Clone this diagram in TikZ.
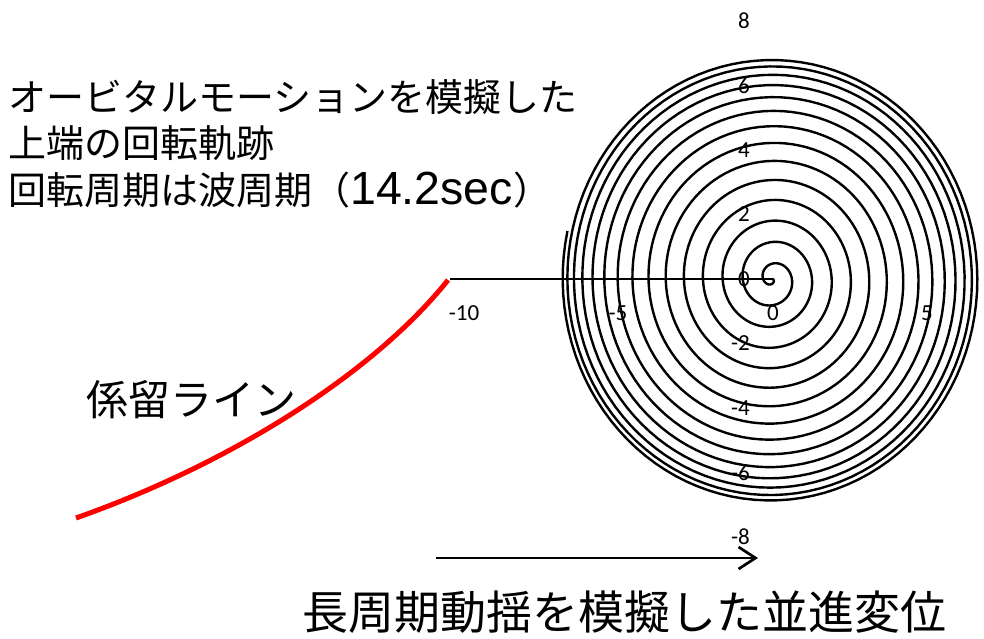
\documentclass[tikz,border=0pt]{standalone}
\usepackage{fontspec}
\setmainfont{Noto Sans CJK JP}
\newfontfamily\jpfont{Noto Sans CJK JP}
\newfontfamily\latfont{Liberation Sans}
\newfontfamily\axfont{Carlito}
\usetikzlibrary{arrows.meta}
\tikzset{
  jptext/.style={anchor=west, inner sep=0pt, font=\jpfont\fontsize{38}{40}\selectfont},
  axlabel/.style={inner sep=0pt, font=\axfont\fontsize{23}{23}\selectfont},
  spiralline/.style={line width=2.4pt, black, line join=round},
  mooring/.style={line width=5pt, red},
  moveline/.style={line width=2.7pt, -{Straight Barb[length=17pt,width=22pt,line width=2.7pt]}},
}
\begin{document}
\begin{tikzpicture}[x=1pt,y=-1pt]
\useasboundingbox (0,0) rectangle (984,638);
% texts
\node[jptext] (t1) at (8,97) {オービタルモーションを模擬した};
\node[jptext] (t2) at (8,143) {上端の回転軌跡};
\node[jptext] (t3) at (8,190) {回転周期は波周期（{\latfont\fontsize{46.5}{46}\selectfont 14.2sec}）};
\node[anchor=west, inner sep=0pt, font=\jpfont\fontsize{42}{44}\selectfont] (t4) at (86,400) {係留ライン};
\node[anchor=west, inner sep=0pt, font=\jpfont\fontsize{46}{48}\selectfont] (t5) at (302,612) {長周期動揺を模擬した並進変位};
% axis labels
\node[axlabel, anchor=east] (y8) at (750,21) {8};
\node[axlabel, anchor=east] (y6) at (750,85.5) {6};
\node[axlabel, anchor=east] (y4) at (750,150) {4};
\node[axlabel, anchor=east] (y2) at (750,214.5) {2};
\node[axlabel, anchor=east] (y0) at (750,279) {0};
\node[axlabel, anchor=east] (ym2) at (750,343.5) {-2};
\node[axlabel, anchor=east] (ym4) at (750,408) {-4};
\node[axlabel, anchor=east] (ym6) at (750,472.5) {-6};
\node[axlabel, anchor=east] (ym8) at (750,537) {-8};
\node[axlabel] (xm10) at (464,313) {-10};
\node[axlabel] (xm5) at (618,313) {-5};
\node[axlabel] (x0) at (773,313) {0};
\node[axlabel] (x5) at (927,313) {5};
% horizontal line from -10 to center
\coordinate (m) at (450,279);
\coordinate (c) at (772.5,279);
\draw[line width=1.5pt] (m) -- (c);
% spiral
\draw[spiralline] plot[domain=0:14.5, samples=1600, variable=\t]
  ({772.5 + 30.2*(7.01*sin(80*\t/14.5)*cos(165+360*(14.5-\t)) - 0.05*\t/14.5)},
   {279 - 32.25*7.01*sin(80*\t/14.5)*sin(165+360*(14.5-\t))});
% mooring line
\coordinate (r1) at (448,280);
\coordinate (r2) at (76,518);
\draw[mooring] (r1) .. controls (378,368) and (240,460) .. (r2);
% translation arrow
\coordinate (a1) at (436,558);
\coordinate (a2) at (758,558);
\draw[moveline] (a1) -- (a2);
\end{tikzpicture}
\end{document}
